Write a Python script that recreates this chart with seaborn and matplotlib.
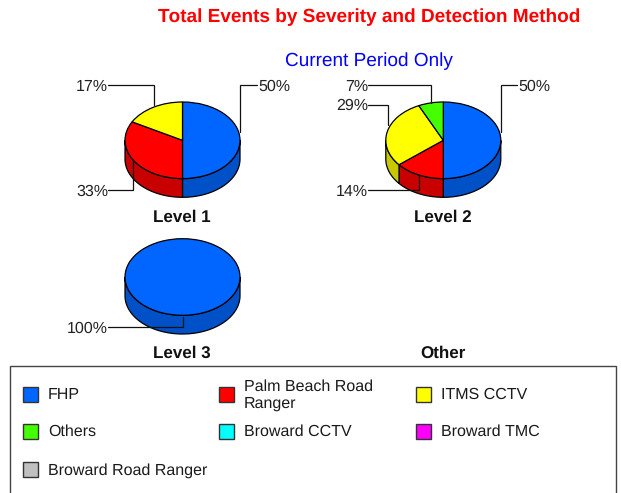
import numpy as np
import matplotlib
matplotlib.use("Agg")
import matplotlib.pyplot as plt
from matplotlib.patches import Rectangle
import seaborn as sns

categories = ["FHP", "Palm Beach Road\nRanger", "ITMS CCTV", "Others",
              "Broward CCTV", "Broward TMC", "Broward Road Ranger"]
level1 = [50, 33, 17, 0, 0, 0, 0]
level2 = [50, 14, 29, 7, 0, 0, 0]
level3 = [100, 0, 0, 0, 0, 0, 0]
top_colors = ["#0066FF", "#FF0000", "#FFFF00", "#44FF00", "#00FFFF", "#FF00FF", "#C0C0C0"]
side_colors = ["#0050C8", "#C80000", "#C8C800", "#36C800", "#00C8C8", "#C800C8", "#969696"]

sns.set_theme(style="white")
plt.rcParams["font.family"] = ["Liberation Sans", "DejaVu Sans"]
plt.rcParams["text.hinting"] = "no_hinting"
plt.rcParams["text.hinting_factor"] = 1
palette = sns.color_palette(top_colors)
side_palette = sns.color_palette(side_colors)

W, H = 621, 493
fig = plt.figure(figsize=(W / 100, H / 100), dpi=100, facecolor="white")

RX, RY, DEPTH = 57.5, 38.3, 18.7
EDGE = "#000000"


def draw_pie(values, cx, cy):
    left, right, top, bottom = 1.06, 1.06, 1.06, 1.06 + DEPTH / RY
    ax = fig.add_axes([(cx - left * RX) / W, 1 - (cy + bottom * RY) / H,
                       (left + right) * RX / W, (top + bottom) * RY / H])
    ax.set_zorder(2)
    depth = DEPTH / RY
    shown = [(v, palette[i], side_palette[i]) for i, v in enumerate(values) if v > 0]
    vals = [s[0] for s in shown]
    # Side walls on the front half of the ellipse
    start = 90.0
    for v, _, side in shown:
        a0, a1 = start - 360 * v / sum(vals), start
        start = a0
        segs = []
        for lo, hi in ((a0, a1), (a0 + 360, a1 + 360), (a0 - 360, a1 - 360)):
            lo2, hi2 = max(lo, 180), min(hi, 360)
            if hi2 > lo2:
                segs.append((lo2, hi2))
        for lo2, hi2 in segs:
            t = np.radians(np.linspace(lo2, hi2, 80))
            xs = np.cos(t)
            ys = np.sin(t)
            ax.fill(np.r_[xs, xs[::-1]], np.r_[ys, ys[::-1] - depth],
                    facecolor=side, edgecolor=EDGE, linewidth=0.9, zorder=1)
    ax.pie(vals, colors=[s[1] for s in shown], startangle=90, counterclock=False,
           radius=1, wedgeprops=dict(edgecolor=EDGE, linewidth=0.9, zorder=3))
    ax.set_aspect("auto")
    ax.set_xlim(-left, right)
    ax.set_ylim(-bottom, top)
    ax.axis("off")


draw_pie(level1, 182.5, 140.3)
draw_pie(level2, 443.3, 140.3)
draw_pie(level3, 182.5, 277.0)

ov = fig.add_axes([0, 0, 1, 1], zorder=5)
ov.set_xlim(0, W)
ov.set_ylim(H, 0)
ov.axis("off")
ov.patch.set_alpha(0)

ov.text(369.5, 17, "Total Events by Severity and Detection Method", color="#FF0000",
        fontsize=13.85, fontweight="bold", ha="center", va="center")
ov.text(369, 61, "Current Period Only", color="#0000FF", fontsize=14.0,
        ha="center", va="center")
for label, x, y in [("Level 1", 182.3, 217), ("Level 2", 443.3, 217),
                    ("Level 3", 182.3, 353), ("Other", 443.3, 353)]:
    ov.text(x, y, label, color="#111111", fontsize=12.3, fontweight="bold",
            ha="center", va="center")

# Leader lines: label value, text anchor, path
leaders = [
    (level1[0], "left", [(240, 132), (240, 85), (257, 85)]),
    (level1[2], "right", [(153.7, 105), (153.7, 85), (108, 85)]),
    (level1[1], "right", [(133, 160), (133, 190), (108, 190)]),
    (level2[0], "left", [(500.5, 132), (500.5, 85), (517, 85)]),
    (level2[3], "right", [(430.5, 103), (430.5, 85), (368, 85)]),
    (level2[2], "right", [(387.7, 125), (387.7, 104.5), (368, 104.5)]),
    (level2[1], "right", [(418.7, 175), (418.7, 190), (368, 190)]),
    (level3[0], "right", [(182.5, 317), (182.5, 327), (108, 327)]),
]
for v, ha, path in leaders:
    xs, ys = zip(*path)
    ov.plot(xs, ys, color="#111111", lw=0.9, solid_joinstyle="miter")
    ov.text(xs[-1] + (1 if ha == "left" else 0), ys[-1] + 1.3, f"{v}%", ha=ha, va="center",
            fontsize=11.6, color="#222222")

# Legend box
ov.add_patch(Rectangle((10, 366), 606, 140, facecolor="white", edgecolor="#444444",
                       linewidth=1.0, clip_on=True))
col_x = [23, 219, 416]
row_y = [394, 431, 469]
for i, name in enumerate(categories):
    r, c = divmod(i, 3)
    x, y = col_x[c], row_y[r]
    ov.add_patch(Rectangle((x, y - 7.5), 15, 15, facecolor=palette[i],
                           edgecolor="#333333", linewidth=1.0))
    ov.text(x + 25, y + 1.2, name, fontsize=11.3, color="#1a1a1a", ha="left", va="center",
            linespacing=1.2)

fig.savefig("out.png", dpi=100, facecolor="white")
